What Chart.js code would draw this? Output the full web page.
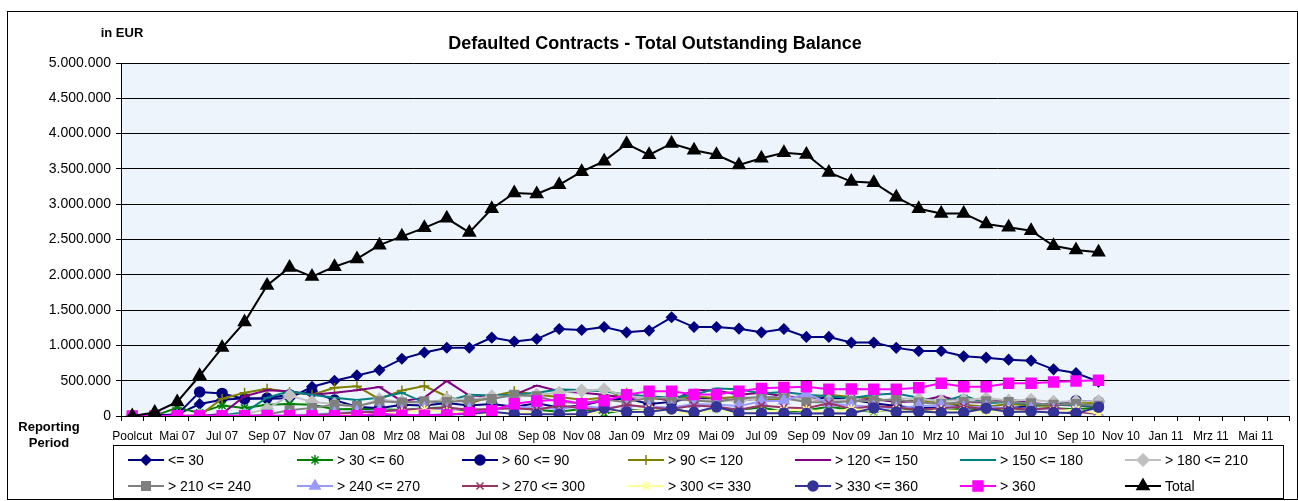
<!DOCTYPE html>
<html>
<head>
<meta charset="utf-8">
<script src="https://cdn.jsdelivr.net/npm/chart.js@4.4.1/dist/chart.umd.min.js"></script>
<style>
  html, body { margin: 0; padding: 0; background: #fff; }
  canvas { display: block; }
</style>
</head>
<body>
<canvas id="myChart" width="1298" height="501"></canvas>
<script>
// Reporting periods (monthly, labelled every second month)
const categories = ["Poolcut","Apr 07","Mai 07","Jun 07","Jul 07","Aug 07","Sep 07","Okt 07","Nov 07","Dez 07",
  "Jan 08","Feb 08","Mrz 08","Apr 08","Mai 08","Jun 08","Jul 08","Aug 08","Sep 08","Okt 08","Nov 08","Dez 08",
  "Jan 09","Feb 09","Mrz 09","Apr 09","Mai 09","Jun 09","Jul 09","Aug 09","Sep 09","Okt 09","Nov 09","Dez 09",
  "Jan 10","Feb 10","Mrz 10","Apr 10","Mai 10","Jun 10","Jul 10","Aug 10","Sep 10","Okt 10","Nov 10","Dez 10",
  "Jan 11","Feb 11","Mrz 11","Apr 11","Mai 11","Jun 11"];

const yTicks = [0, 500000, 1000000, 1500000, 2000000, 2500000, 3000000, 3500000, 4000000, 4500000, 5000000];

// outstanding balance per delinquency bucket (EUR)
const le30 = [0, 10000, 20000, 170000, 230000, 250000, 245000, 250000, 415000, 500000, 575000, 650000, 810000, 900000, 967000, 967000, 1110000, 1055000, 1090000, 1232000, 1218000, 1260000, 1185000, 1210000, 1398000, 1260000, 1260000, 1237000, 1185000, 1232000, 1120000, 1120000, 1040000, 1040000, 965000, 920000, 920000, 845000, 826000, 798000, 784000, 661000, 609000, 486000];
const gt30le60 = [0, 5000, 115000, 45000, 150000, 115000, 160000, 170000, 160000, 95000, 100000, 95000, 85000, 110000, 125000, 60000, 80000, 150000, 90000, 60000, 100000, 40000, 90000, 70000, 110000, 40000, 100000, 90000, 120000, 60000, 80000, 130000, 90000, 60000, 100000, 80000, 70000, 110000, 90000, 80000, 100000, 110000, 95000, 120000];
const gt60le90 = [0, 0, 20000, 340000, 320000, 240000, 255000, 300000, 345000, 225000, 130000, 110000, 160000, 150000, 185000, 150000, 170000, 130000, 180000, 120000, 150000, 220000, 250000, 170000, 200000, 260000, 240000, 220000, 250000, 280000, 240000, 260000, 230000, 180000, 140000, 110000, 120000, 150000, 120000, 110000, 140000, 170000, 215000, 200000];
const gt90le120 = [0, 0, 0, 10000, 245000, 330000, 385000, 340000, 300000, 400000, 420000, 240000, 360000, 425000, 280000, 175000, 280000, 350000, 300000, 270000, 230000, 260000, 330000, 250000, 230000, 280000, 250000, 270000, 220000, 240000, 260000, 300000, 270000, 250000, 200000, 230000, 180000, 160000, 130000, 170000, 150000, 140000, 190000, 180000];
const gt120le150 = [0, 0, 0, 0, 30000, 280000, 365000, 350000, 300000, 330000, 365000, 410000, 210000, 260000, 495000, 290000, 280000, 300000, 430000, 350000, 330000, 300000, 250000, 280000, 210000, 370000, 360000, 300000, 330000, 280000, 260000, 200000, 220000, 240000, 200000, 210000, 280000, 200000, 190000, 240000, 180000, 160000, 150000, 130000];
const gt150le180 = [0, 0, 0, 0, 10000, 50000, 260000, 350000, 300000, 260000, 225000, 260000, 330000, 190000, 210000, 300000, 290000, 300000, 330000, 375000, 370000, 350000, 300000, 280000, 260000, 300000, 390000, 380000, 320000, 340000, 300000, 280000, 250000, 300000, 320000, 260000, 200000, 290000, 180000, 200000, 160000, 170000, 150000, 140000];
const gt180le210 = [0, 0, 0, 0, 0, 20000, 100000, 290000, 200000, 170000, 130000, 235000, 200000, 180000, 240000, 230000, 280000, 270000, 300000, 330000, 360000, 375000, 280000, 260000, 250000, 220000, 230000, 210000, 260000, 270000, 240000, 220000, 230000, 210000, 250000, 240000, 210000, 230000, 250000, 220000, 230000, 200000, 210000, 210000];
const gt210le240 = [0, 0, 0, 0, 0, 0, 20000, 80000, 115000, 160000, 140000, 210000, 190000, 210000, 200000, 220000, 240000, 300000, 280000, 200000, 180000, 230000, 200000, 260000, 240000, 220000, 200000, 250000, 270000, 250000, 200000, 190000, 210000, 220000, 230000, 190000, 170000, 200000, 210000, 200000, 180000, 160000, 170000, 145000];
const gt240le270 = [0, 0, 0, 0, 0, 0, 0, 10000, 20000, 40000, 60000, 80000, 70000, 110000, 90000, 100000, 80000, 130000, 120000, 100000, 140000, 110000, 150000, 130000, 120000, 170000, 160000, 140000, 210000, 215000, 320000, 180000, 150000, 130000, 110000, 140000, 150000, 120000, 130000, 110000, 100000, 90000, 80000, 30000];
const gt270le300 = [0, 0, 0, 0, 0, 0, 0, 0, 10000, 30000, 50000, 60000, 90000, 100000, 120000, 90000, 100000, 110000, 90000, 150000, 110000, 90000, 160000, 120000, 100000, 150000, 130000, 90000, 150000, 120000, 110000, 180000, 100000, 140000, 120000, 90000, 110000, 130000, 100000, 110000, 90000, 120000, 60000, 30000];
const gt300le330 = [0, 0, 0, 0, 0, 0, 0, 0, 0, 5000, 20000, 30000, 50000, 90000, 60000, 50000, 20000, 60000, 40000, 30000, 10000, 80000, 60000, 90000, 70000, 30000, 100000, 40000, 60000, 80000, 90000, 50000, 100000, 70000, 90000, 50000, 80000, 70000, 60000, 80000, 50000, 70000, 90000, 40000];
const gt330le360 = [0, 0, 0, 0, 0, 0, 0, 0, 0, 0, 0, 0, 5000, 10000, 20000, 30000, 60000, 30000, 25000, 25000, 30000, 110000, 55000, 60000, 100000, 50000, 130000, 40000, 40000, 40000, 35000, 40000, 35000, 115000, 55000, 65000, 50000, 50000, 110000, 55000, 65000, 50000, 40000, 125000];
const gt360 = [0, 0, 5000, 5000, 5000, 5000, 5000, 5000, 5000, 5000, 5000, 35000, 10000, 10000, 15000, 47000, 80000, 174000, 212000, 230000, 175000, 215000, 300000, 350000, 350000, 305000, 305000, 350000, 392000, 405000, 415000, 380000, 383000, 378000, 378000, 401000, 463000, 415000, 415000, 463000, 463000, 482000, 496000, 506000];
const total = [0, 50000, 200000, 570000, 970000, 1330000, 1850000, 2105000, 1975000, 2115000, 2225000, 2420000, 2545000, 2665000, 2800000, 2600000, 2935000, 3160000, 3145000, 3275000, 3460000, 3610000, 3855000, 3700000, 3860000, 3765000, 3700000, 3555000, 3650000, 3730000, 3705000, 3450000, 3320000, 3305000, 3100000, 2935000, 2870000, 2870000, 2720000, 2675000, 2625000, 2410000, 2350000, 2320000];

const seriesNames = ["<= 30", "> 30 <= 60", "> 60 <= 90", "> 90 <= 120", "> 120 <= 150", "> 150 <= 180", "> 180 <= 210",
  "> 210 <= 240", "> 240 <= 270", "> 270 <= 300", "> 300 <= 330", "> 330 <= 360", "> 360", "Total"];
const seriesData = [le30, gt30le60, gt60le90, gt90le120, gt120le150, gt150le180, gt180le210,
  gt210le240, gt240le270, gt270le300, gt300le330, gt330le360, gt360, total];

// look of each series (Excel default palette)
const seriesColors = ["#000080", "#008000", "#000080", "#808000", "#800080", "#008080", "#C0C0C0",
  "#808080", "#9999FF", "#993366", "#FFFF99", "#333399", "#FF00FF", "#000000"];
const seriesMarkers = ["rectRot", "star", "circle", "cross", "line", "line", "rectRot",
  "rect", "triangle", "crossRot", "star", "circle", "rect", "triangle"];
const markerSizes = [5, 5, 5, 5, 4, 4, 6, 6, 6, 5, 5, 5, 7, 7];

function formatEur(v) {
  return String(v).replace(/\B(?=(\d{3})+(?!\d))/g, ".");
}

Chart.defaults.font.family = "'Liberation Sans', Arial, sans-serif";
Chart.defaults.color = "#000";

const datasets = seriesNames.map((name, i) => ({
  label: name,
  data: seriesData[i],
  borderColor: seriesColors[i],
  backgroundColor: seriesColors[i],
  borderWidth: 2,
  pointStyle: seriesMarkers[i],
  pointRadius: markerSizes[i],
  pointBorderColor: seriesColors[i],
  pointBackgroundColor: seriesColors[i],
  pointBorderWidth: 1.5,
  tension: 0,
  fill: false,
  order: seriesNames.length - i,
}));

// legend layout (7 columns, 2 rows)
const legendCols = [128, 297, 462, 628, 795, 960, 1125];
const legendRows = [460, 486];

function drawMarker(ctx, style, radius, x, y, color) {
  ctx.save();
  ctx.fillStyle = color;
  ctx.strokeStyle = color;
  ctx.lineWidth = 1.5;
  if (Chart.helpers && Chart.helpers.drawPoint) {
    Chart.helpers.drawPoint(ctx, { pointStyle: style, radius: radius, rotation: 0, borderWidth: 1.5 }, x, y);
  } else {
    ctx.beginPath();
    ctx.arc(x, y, radius, 0, Math.PI * 2);
    ctx.fill();
  }
  ctx.restore();
}

const decorations = {
  id: "decorations",
  beforeDraw(chart) {
    const { ctx, chartArea: a } = chart;
    ctx.save();
    ctx.fillStyle = "#fff";
    ctx.fillRect(0, 0, chart.width, chart.height);
    ctx.fillStyle = "#EDF4FB";
    ctx.fillRect(a.left, a.top, a.right - a.left, a.bottom - a.top);
    ctx.restore();
  },
  afterDraw(chart) {
    const ctx = chart.ctx;
    ctx.save();
    // outer frame
    ctx.strokeStyle = "#000";
    ctx.lineWidth = 1;
    ctx.strokeRect(7.5, 11.5, 1290, 488);

    // titles
    ctx.fillStyle = "#000";
    ctx.textBaseline = "middle";
    ctx.textAlign = "center";
    ctx.font = "bold 18px 'Liberation Sans', Arial, sans-serif";
    ctx.fillText("Defaulted Contracts - Total Outstanding Balance", 655, 44);
    ctx.font = "bold 13px 'Liberation Sans', Arial, sans-serif";
    ctx.fillText("in EUR", 122, 33);
    ctx.fillText("Reporting", 49, 427);
    ctx.fillText("Period", 49, 443);

    // legend
    ctx.strokeRect(113.5, 445.5, 1170, 53);
    ctx.textAlign = "left";
    ctx.font = "14px 'Liberation Sans', Arial, sans-serif";
    chart.data.datasets.forEach((ds, i) => {
      const x0 = legendCols[i % 7];
      const y = legendRows[Math.floor(i / 7)];
      ctx.strokeStyle = ds.borderColor;
      ctx.lineWidth = 2;
      ctx.beginPath();
      ctx.moveTo(x0, y);
      ctx.lineTo(x0 + 36, y);
      ctx.stroke();
      drawMarker(ctx, ds.pointStyle, ds.pointRadius, x0 + 18, y, ds.borderColor);
      ctx.fillStyle = "#000";
      ctx.fillText(ds.label, x0 + 40, y + 1);
    });
    ctx.restore();
  }
};

new Chart("myChart", {
  type: "line",
  data: { labels: categories, datasets: datasets },
  options: {
    responsive: false,
    animation: false,
    devicePixelRatio: 1,
    layout: { padding: { left: 0, right: 0, top: 63, bottom: 0 } },
    plugins: {
      legend: { display: false },
      title: { display: false },
      tooltip: { enabled: false },
    },
    scales: {
      x: {
        offset: true,
        afterFit(scale) { scale.height = 85; },
        grid: { offset: true, drawOnChartArea: false, drawTicks: true, tickLength: 5, color: "#000" },
        border: { color: "#000" },
        ticks: {
          autoSkip: false,
          maxRotation: 0,
          minRotation: 0,
          padding: 8,
          font: { size: 12 },
          callback: (v, i) => (i % 2 === 0 ? categories[i] : ""),
        },
      },
      y: {
        min: yTicks[0],
        max: yTicks[yTicks.length - 1],
        afterFit(scale) { scale.width = 121; },
        afterBuildTicks(scale) { scale.ticks = yTicks.map(v => ({ value: v })); },
        grid: { color: "#000", lineWidth: 1, tickLength: 5 },
        border: { color: "#000" },
        ticks: {
          padding: 5,
          font: { size: 14 },
          callback: (v) => formatEur(v),
        },
      },
    },
  },
  plugins: [decorations],
});
</script>
</body>
</html>
